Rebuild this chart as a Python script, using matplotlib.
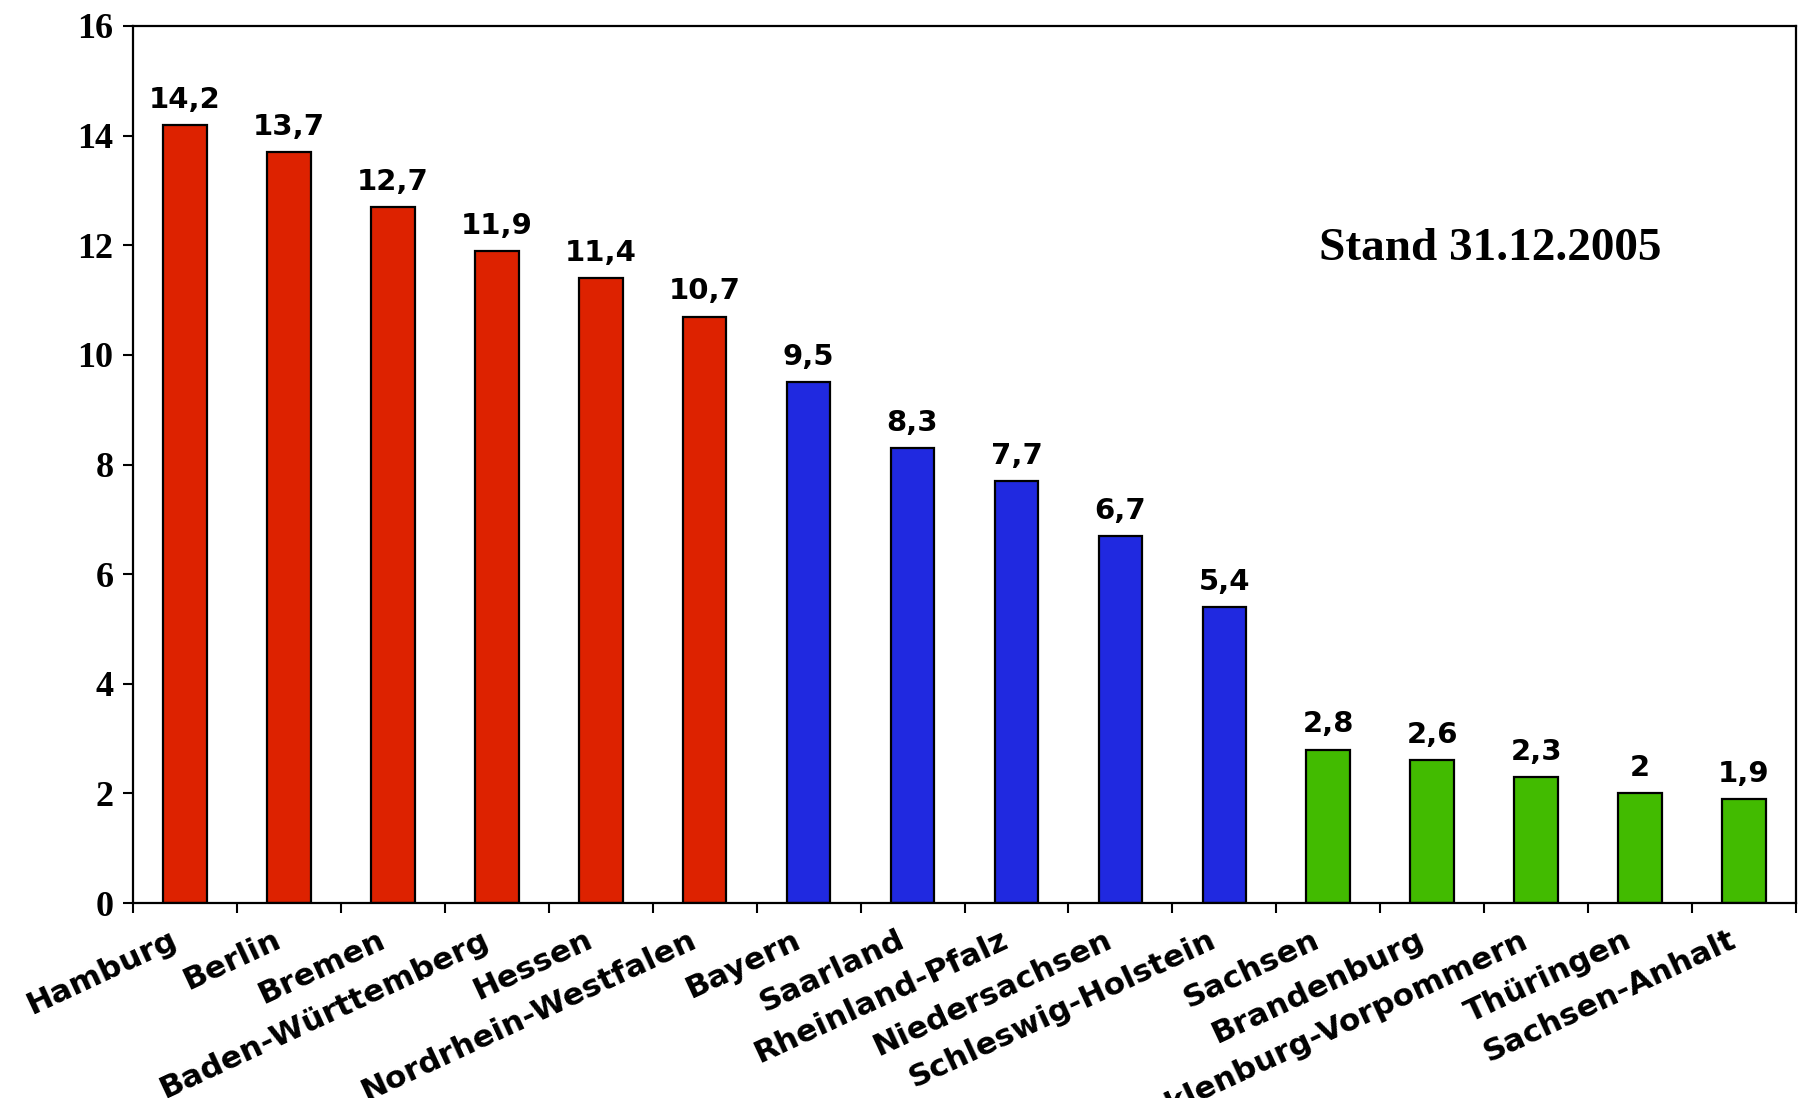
import matplotlib.pyplot as plt
import matplotlib.transforms as mtransforms
import numpy as np

laender = ['Hamburg', 'Berlin', 'Bremen', 'Baden-Württemberg', 'Hessen',
           'Nordrhein-Westfalen', 'Bayern', 'Saarland', 'Rheinland-Pfalz',
           'Niedersachsen', 'Schleswig-Holstein', 'Sachsen', 'Brandenburg',
           'Mecklenburg-Vorpommern', 'Thüringen', 'Sachsen-Anhalt']
werte = [14.2, 13.7, 12.7, 11.9, 11.4, 10.7, 9.5, 8.3, 7.7, 6.7, 5.4,
         2.8, 2.6, 2.3, 2.0, 1.9]
gruppe = ['rot'] * 6 + ['blau'] * 5 + ['gruen'] * 5
farben = {'rot': '#DD2200', 'blau': '#2029E0', 'gruen': '#42BB00'}

fig = plt.figure(figsize=(17.98, 10.98), dpi=100)
ax = fig.add_axes([133 / 1798, 195 / 1098, 1663 / 1798, 877 / 1098])

x = np.arange(len(laender))
ax.bar(x, werte, width=0.42, color=[farben[g] for g in gruppe],
       edgecolor='black', linewidth=1.6, zorder=2)

for xi, v in zip(x, werte):
    txt = ('%g' % v).replace('.', ',')
    ax.annotate(txt, (xi, v), xytext=(0, 8), textcoords='offset points',
                ha='center', va='bottom', fontsize=21, fontweight='bold',
                family='DejaVu Sans')

ax.set_xlim(-0.5, len(laender) - 0.5)
ax.set_ylim(0, 16)
ax.set_yticks(np.arange(0, 17, 2))
ax.set_yticklabels([str(t) for t in range(0, 17, 2)],
                   family='Liberation Serif', fontweight='bold', fontsize=26)
ax.tick_params(axis='y', length=7, width=1.5, pad=7)

# Kategorien-Beschriftung mittig, Teilstriche auf den Grenzen
ax.set_xticks(x)
ax.set_xticklabels(laender, rotation=25, ha='right', rotation_mode='anchor',
                   family='DejaVu Sans', fontweight='bold', fontsize=22.5)
ax.tick_params(axis='x', which='major', length=0, pad=16)
verschiebung = mtransforms.ScaledTranslation(-0.16, 0, fig.dpi_scale_trans)
for lab in ax.get_xticklabels():
    lab.set_transform(lab.get_transform() + verschiebung)
ax.set_xticks(np.arange(-0.5, len(laender), 1), minor=True)
ax.tick_params(axis='x', which='minor', length=7, width=1.5)

for s in ax.spines.values():
    s.set_linewidth(1.6)

ax.text(0.816, 0.746, 'Stand 31.12.2005', transform=ax.transAxes,
        ha='center', va='center', family='Liberation Serif',
        fontweight='bold', fontsize=34)

fig.savefig('out.png', dpi=100)
